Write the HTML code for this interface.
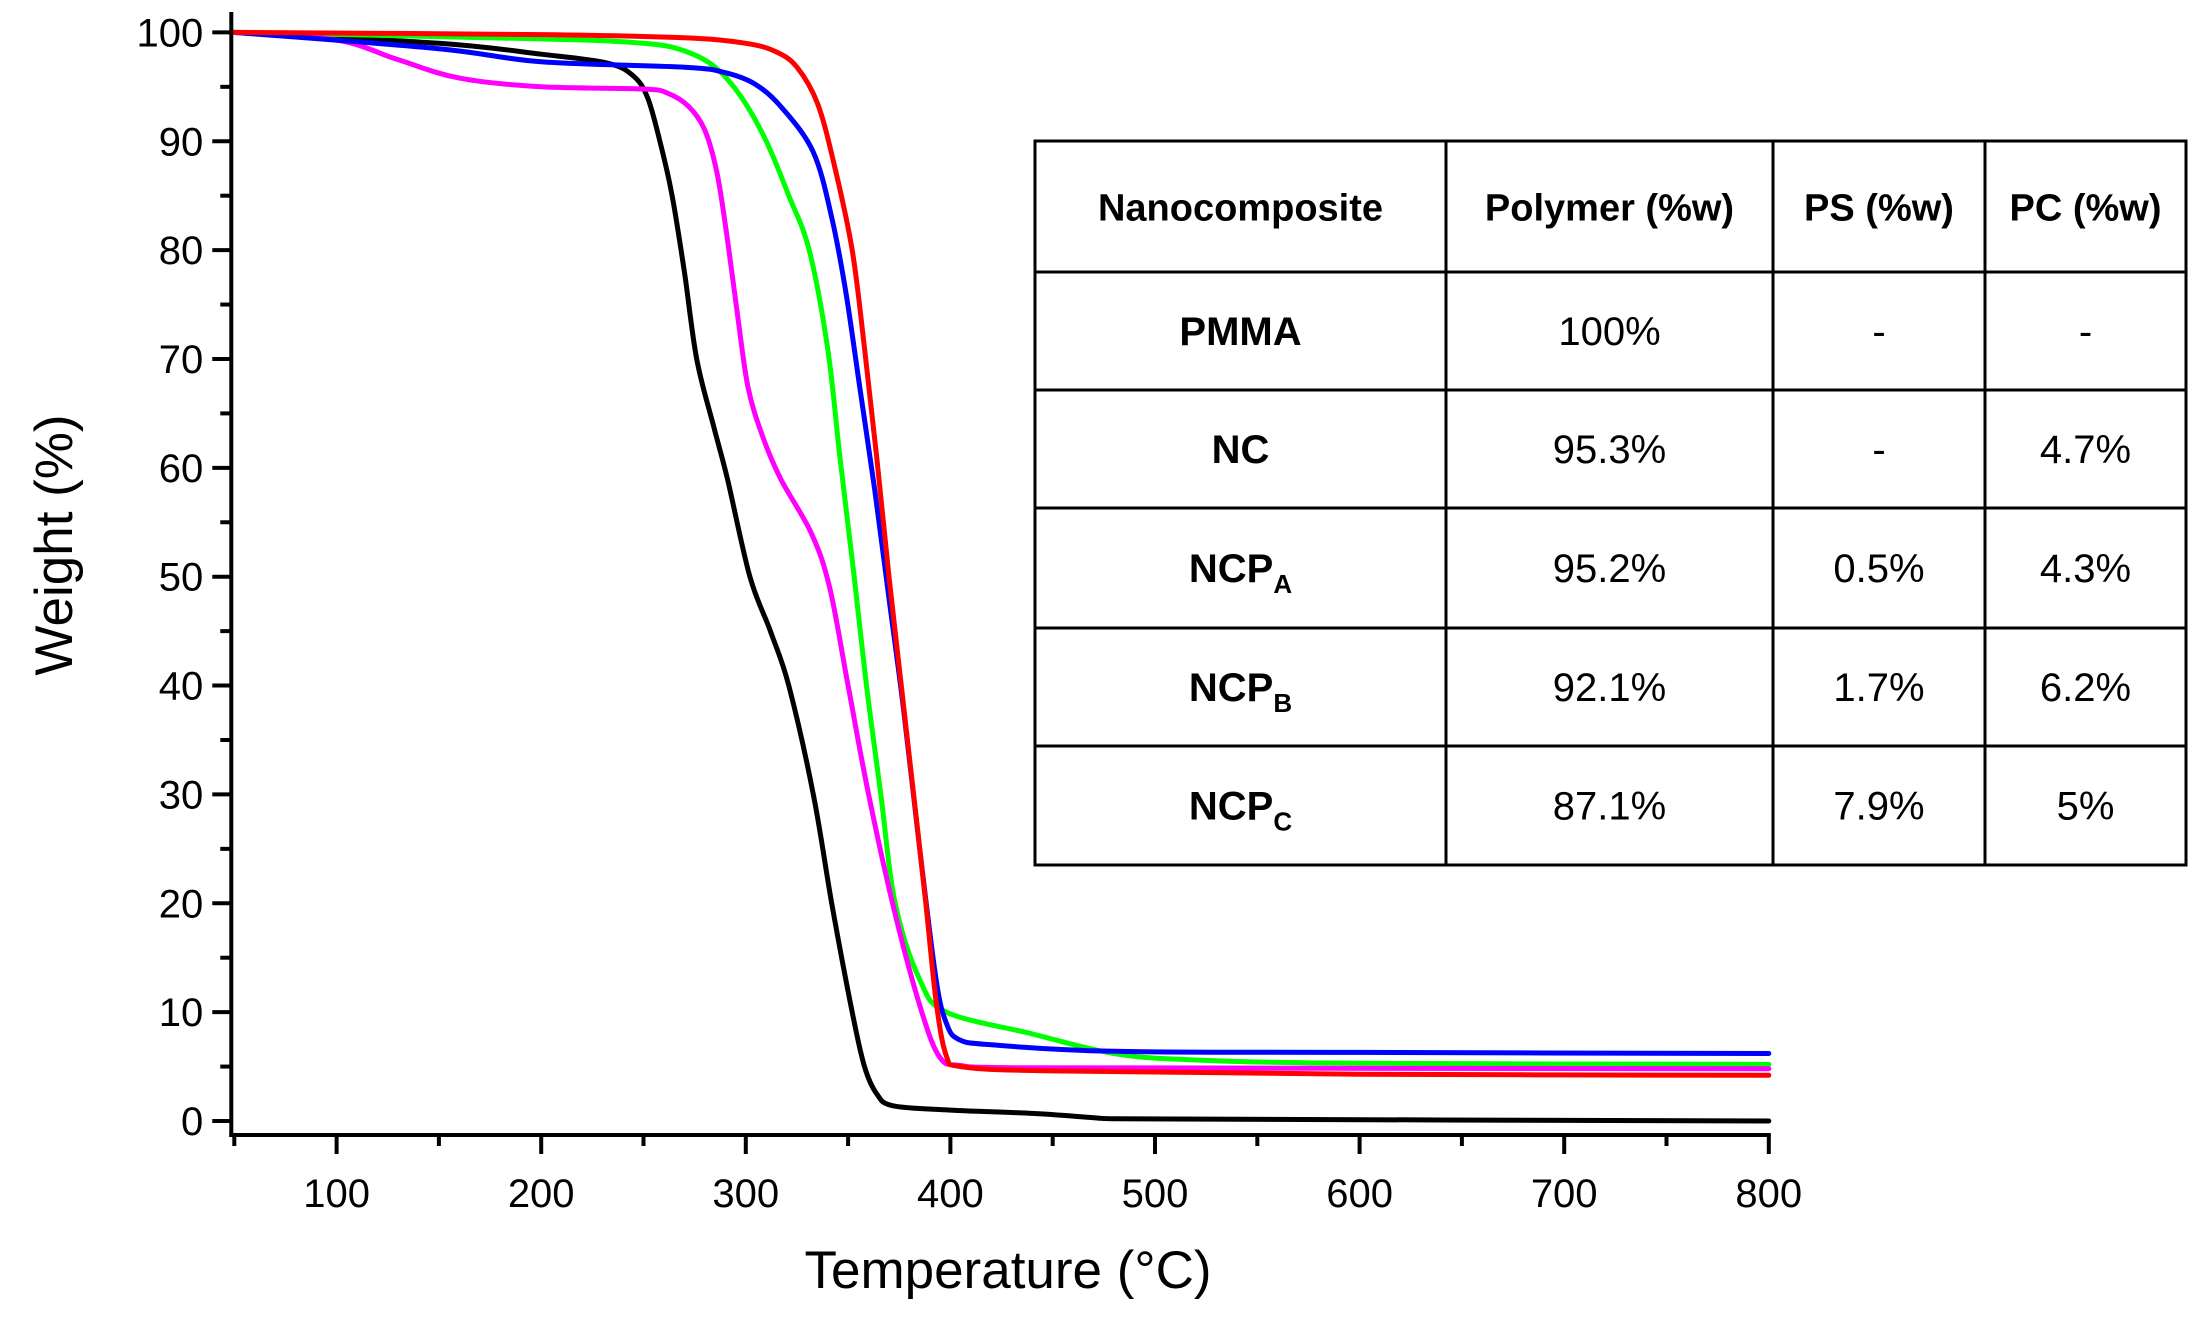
<!DOCTYPE html>
<html><head><meta charset="utf-8"><style>
html,body{margin:0;padding:0;background:#fff;}
svg text{font-family:"Liberation Sans",Arial,sans-serif;}
</style></head><body>
<svg id="s" width="2207" height="1312" xmlns="http://www.w3.org/2000/svg">
<g id="curves" fill="none" stroke-width="5" stroke-linejoin="round" stroke-linecap="round"></g>
<g id="axes"></g>
<text x="1008" y="1288" font-size="53" text-anchor="middle">Temperature (°C)</text>
<text transform="translate(72,545) rotate(-90)" font-size="53" text-anchor="middle">Weight (%)</text>
<g id="tbl"></g>
</svg>
<script>
const NS="http://www.w3.org/2000/svg";
function el(p,t,a,txt){const e=document.createElementNS(NS,t);for(const k in a)e.setAttribute(k,a[k]);if(txt!==undefined)e.textContent=txt;p.appendChild(e);return e;}
const X=T=>336.6+(T-100)*2.046, Y=W=>1121-W*10.886;
const ax=document.getElementById('axes');
const AX=X(50)-3;
el(ax,'line',{x1:AX,y1:12,x2:AX,y2:1137,stroke:'#000','stroke-width':4});
el(ax,'line',{x1:AX-2,y1:1135,x2:X(800)+2,y2:1135,stroke:'#000','stroke-width':4});
for(let w=0;w<=100;w+=5){const y=Y(w);const maj=w%10==0;el(ax,'line',{x1:maj?AX-19:AX-11,y1:y,x2:AX,y2:y,stroke:'#000','stroke-width':4});
 if(maj)el(ax,'text',{x:AX-28,y:y+14,'font-size':40,'text-anchor':'end'},w);}
for(let t=50;t<=800;t+=50){const x=X(t);const maj=t%100==0;el(ax,'line',{x1:x,y1:1135,x2:x,y2:maj?1154:1146,stroke:'#000','stroke-width':4});
 if(maj)el(ax,'text',{x:x,y:1207,'font-size':40,'text-anchor':'middle'},t);}
const data={
'#000':[[50,100],[150,99],[200,98],[232,97.2],[245,96],[252,94],[258,90],[264,85],[270,78],[276,70],[284,64],[291,59],[302,50],[312,45],[321,40],[333,30],[342,20],[352,10],[358,5],[364,2.5],[372,1.4],[400,1],[440,0.7],[470,0.3],[480,0.2],[800,0]],
'#f0f':[[50,100],[100,99.3],[130,97.5],[160,95.8],[200,95],[250,94.8],[262,94.4],[272,93.2],[280,91],[286,87],[291,81],[296,74],[301,67.5],[308,63],[317,59],[332,54],[341,49],[350,40],[360,30],[373,19],[386,10],[395,5.8],[405,5.1],[430,4.9],[800,4.8]],
'#0f0':[[50,100],[200,99.4],[250,99],[270,98.3],[285,96.8],[298,94],[310,90],[321,85],[331,80],[340,71],[346,61],[353,50],[359,40],[366,30],[373,20],[385,13],[398,10],[440,8],[480,6.2],[520,5.6],[600,5.3],[800,5.2]],
'#00f':[[50,100],[150,98.5],[200,97.3],[270,96.8],[290,96.3],[305,95.2],[318,93],[333,89],[342,83],[349,76],[356,67],[363,58],[370,48],[377,38],[385,25],[393,13],[398,9],[404,7.5],[420,7],[480,6.4],[600,6.3],[800,6.2]],
'#f00':[[50,100],[200,99.8],[270,99.5],[300,99],[315,98.2],[325,96.8],[335,93.5],[343,88],[352,80],[358,71],[364,61],[370,50],[376,40],[382,30],[388,20],[393,11],[398,6],[405,5],[450,4.6],[600,4.3],[800,4.2]]};
function smooth(pts){
 const P=pts.map(p=>[X(p[0]),Y(p[1])]);
 let d='M'+P[0][0].toFixed(1)+','+P[0][1].toFixed(1);
 for(let i=0;i<P.length-1;i++){
  const p0=P[Math.max(0,i-1)],p1=P[i],p2=P[i+1],p3=P[Math.min(P.length-1,i+2)];
  const c1=[p1[0]+(p2[0]-p0[0])/6,p1[1]+(p2[1]-p0[1])/6];
  const c2=[p2[0]-(p3[0]-p1[0])/6,p2[1]-(p3[1]-p1[1])/6];
  c1[0]=Math.min(Math.max(c1[0],p1[0]),p2[0]);c2[0]=Math.min(Math.max(c2[0],p1[0]),p2[0]);
  d+=' C'+c1.map(v=>v.toFixed(1)).join(',')+' '+c2.map(v=>v.toFixed(1)).join(',')+' '+p2.map(v=>v.toFixed(1)).join(',');
 }
 return d;}
const cg=document.getElementById('curves');
for(const c of ['#000','#0f0','#f0f','#00f','#f00']){
 el(cg,'path',{d:smooth(data[c]),stroke:c});}
const tb=document.getElementById('tbl');
const cols=[1035,1446,1773,1985,2186], rows=[141,272,390,508,628,746,865];
el(tb,'rect',{x:1035,y:141,width:1151,height:724,fill:'#fff',stroke:'#000','stroke-width':3});
for(let i=1;i<cols.length-1;i++)el(tb,'line',{x1:cols[i],y1:141,x2:cols[i],y2:865,stroke:'#000','stroke-width':3});
for(let i=1;i<rows.length-1;i++)el(tb,'line',{x1:1035,y1:rows[i],x2:2186,y2:rows[i],stroke:'#000','stroke-width':3});
const cells=[["Nanocomposite","Polymer (%w)","PS (%w)","PC (%w)"],["PMMA","100%","-","-"],["NC","95.3%","-","4.7%"],["NCP|A","95.2%","0.5%","4.3%"],["NCP|B","92.1%","1.7%","6.2%"],["NCP|C","87.1%","7.9%","5%"]];
cells.forEach((r,ri)=>r.forEach((t,ci)=>{
 const cx=(cols[ci]+cols[ci+1])/2, cy=(rows[ri]+rows[ri+1])/2+14;
 const bold=ri==0||ci==0;
 const tx=el(tb,'text',{x:cx,y:cy,'font-size':ri==0?38:40,'text-anchor':'middle','font-weight':bold?'bold':'normal'});
 if(t.includes('|')){const [a,b]=t.split('|');tx.textContent=a;el(tx,'tspan',{'font-size':26,dy:11},b);}
 else tx.textContent=t;
}));
</script>
</body></html>
